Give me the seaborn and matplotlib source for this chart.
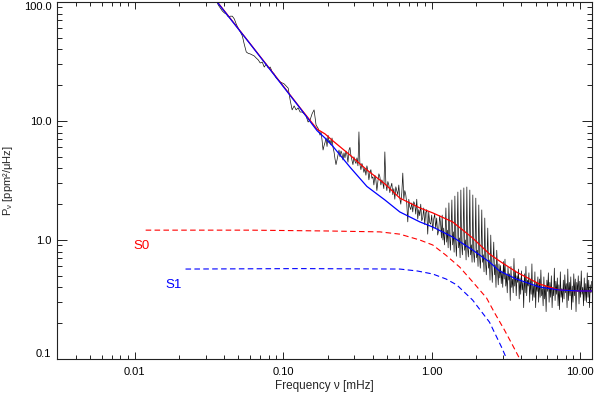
import numpy as np
import matplotlib
matplotlib.use('Agg')
import matplotlib.pyplot as plt
import seaborn as sns
from matplotlib.ticker import FixedLocator, FixedFormatter, LogLocator, NullFormatter

# each piece sits on a log-spaced run of frequency bins (mHz) given by spec_bins
spec_p1 = [102, 94, 89, 84, 81, 79, 75, 76, 76, 72,
           65, 60, 56, 52, 44, 38, 37, 36.6, 35.9, 35.2,
           33.8, 32.6, 30.7, 31.3, 28.4, 30.1, 27.9, 28.4, 25.8, 24.8,
           23.0, 22.1, 21.3, 20.9, 20.5, 19.7, 18.9, 15.0, 12.4, 13.4,
           12.4, 12.9, 11.9, 11.9, 11.5, 11.0, 9.8, 10.2, 11.5, 12.4,
           9.25, 8.7]
spec_p2 = [7.6, 8.1, 6.9, 5.7, 6.2, 6.6, 7.2, 6.1, 7.6, 6.6,
           6.9, 6.3, 7.2, 6.0, 5.5, 4.8, 4.3, 4.7, 5.2, 5.7,
           5.0, 5.6, 5.3, 4.7, 5.4, 4.9, 5.6, 5.2, 4.5, 5.7,
           6.0, 5.1, 4.7, 4.3, 5.0, 4.6, 4.4, 4.9, 4.2, 8.1,
           4.3, 3.9, 4.4, 4.1, 3.7, 4.0, 3.5, 4.2, 3.8, 3.2,
           3.7, 3.9, 3.3, 3.4, 2.9, 3.5, 3.2, 2.6, 3.1, 3.6,
           3.4, 2.9, 3.2, 3.0, 2.7, 5.5, 3.0, 2.6, 3.1, 2.9,
           2.5, 2.8, 3.0, 2.4, 2.7, 2.2, 2.8, 2.6, 2.4, 2.9,
           2.25, 2.0, 2.5, 3.65, 2.2, 2.6, 2.4, 2.0, 1.42, 2.2,
           1.9, 1.8, 2.05, 1.72, 2.1, 2.0, 1.65, 2.2, 1.5, 1.8,
           1.6, 2.0, 1.45, 1.53, 1.86, 1.35, 1.7, 1.8, 1.12, 1.72,
           1.4, 1.36, 1.62, 1.2, 1.5, 1.65, 1.25, 1.53, 1.1, 1.21,
           1.6]
spec_p3 = [1.34, 1.04, 1.62, 1.00, 1.26, 0.91, 1.17, 1.86, 0.96, 1.21,
           0.86, 2.05, 1.08, 0.82, 1.24, 2.17, 0.91, 1.17, 0.79, 2.34,
           1.00, 0.73, 1.10, 2.53, 0.86, 1.04, 0.71, 2.63, 0.94, 0.75,
           1.08, 2.74, 0.82, 1.00, 0.68, 2.79, 0.86, 0.72, 0.96, 2.63,
           0.75, 0.91, 0.65, 2.39, 0.79, 0.65, 0.87, 2.25, 0.71, 0.82,
           0.60, 1.97, 0.73, 0.58, 0.79, 1.79, 0.65, 0.75, 0.54, 1.53,
           0.65, 0.51, 0.71, 1.26, 0.58, 0.68, 0.46, 1.10, 0.60, 0.44,
           0.65, 0.96, 0.51, 0.62, 0.40, 0.82, 0.56, 0.42, 0.63, 0.48]
spec_p4 = [0.61, 0.43, 0.55, 0.40, 0.66, 0.47, 0.69, 0.41, 0.51, 0.36,
           0.59, 0.46, 0.52, 0.31, 0.60, 0.40, 0.47, 0.36, 0.70, 0.41,
           0.55, 0.34, 0.50, 0.44, 0.57, 0.32, 0.48, 0.35, 0.55, 0.38,
           0.44, 0.27, 0.52, 0.36, 0.60, 0.34, 0.46, 0.41, 0.53, 0.30,
           0.46, 0.35, 0.63, 0.31, 0.41, 0.33, 0.54, 0.27, 0.44, 0.37,
           0.49, 0.30, 0.47, 0.33, 0.56, 0.34, 0.39, 0.28, 0.49, 0.32,
           0.41, 0.25, 0.46, 0.37, 0.53, 0.30, 0.44, 0.33, 0.50, 0.27,
           0.40, 0.34, 0.58, 0.31, 0.45, 0.35, 0.48, 0.28, 0.42, 0.26,
           0.54, 0.33, 0.39, 0.30, 0.46, 0.32, 0.51, 0.36, 0.43, 0.27,
           0.57, 0.31, 0.44, 0.34, 0.49, 0.26, 0.41, 0.30, 0.52, 0.34,
           0.47, 0.25, 0.44, 0.37, 0.50, 0.29, 0.45, 0.33, 0.55, 0.35,
           0.40, 0.28, 0.48, 0.31, 0.43, 0.30, 0.53, 0.33, 0.46, 0.27,
           0.42, 0.36, 0.45]
spec_bins = [(0.0355, 0.1717), (0.1771, 1.1316), (1.149, 2.871), (2.905, 11.95)]

# fitted background: red = full model, blue = second fit
red_f = [0.0334, 0.0601, 0.1, 0.130, 0.169, 0.191, 0.2167, 0.2815, 0.366, 0.484,
         0.610, 0.831, 1.016, 1.383, 1.885, 2.449, 2.859, 3.717, 5.30, 7.23,
         9.84, 12.0]
red_p = [113, 44.4, 19.7, 12.9, 8.55, 7.8, 6.79, 5.18, 3.88, 2.96,
         2.25, 1.86, 1.69, 1.42, 1.04, 0.763, 0.666, 0.538, 0.427, 0.38,
         0.373, 0.373]
blue_f = [0.0334, 0.0601, 0.1, 0.130, 0.169, 0.191, 0.2167, 0.2815, 0.366, 0.484,
          0.610, 0.831, 1.016, 1.383, 1.885, 2.449, 2.859, 3.717, 5.30, 7.23,
          9.84, 12.0]
blue_p = [112, 44.2, 19.5, 12.8, 8.3, 7.2, 6.1, 4.1, 2.82, 2.17,
          1.72, 1.42, 1.286, 1.06, 0.824, 0.653, 0.549, 0.47, 0.403, 0.38,
          0.373, 0.373]

# granulation components
s0_f = [0.01186, 0.0601, 0.2067, 0.448, 0.610, 0.831, 1.016, 1.242, 1.541, 1.914,
        2.339, 2.647, 3.09, 3.50, 4.02]
s0_p = [1.21, 1.21, 1.19, 1.17, 1.12, 1.0, 0.908, 0.748, 0.593, 0.436,
        0.326, 0.245, 0.175, 0.131, 0.094]
s1_f = [0.0220, 0.130, 0.610, 0.8, 1.016, 1.25, 1.472, 1.885, 2.449, 2.95, 3.24]
s1_p = [0.57, 0.575, 0.57, 0.549, 0.518, 0.47, 0.42, 0.313, 0.204, 0.126, 0.0965]

xticks = [0.01, 0.1, 1.0, 10.0]
xticklabels = ['0.01', '0.10', '1.00', '10.00']
yticks = [0.1, 1.0, 10.0, 100.0]
yticklabels = ['0.1', '1.0', '10.0', '100.0']

sns.set_style('ticks')
plt.rcParams['font.family'] = ['Liberation Sans', 'DejaVu Sans']
plt.rcParams['mathtext.fontset'] = 'custom'
plt.rcParams['mathtext.rm'] = 'Liberation Sans'
plt.rcParams['mathtext.it'] = 'Liberation Sans'

fig = plt.figure(figsize=(5.97, 3.93), dpi=100)
ax = fig.add_axes([57 / 597, 1 - 359 / 393, 535 / 597, 357 / 393])

freq = np.concatenate([np.geomspace(a, b, len(p)) for (a, b), p in
                       zip(spec_bins, [spec_p1, spec_p2, spec_p3, spec_p4])])
power = np.concatenate([spec_p1, spec_p2, spec_p3, spec_p4])

sns.lineplot(x=freq, y=power, ax=ax, color='#111111', lw=0.5, sort=False, estimator=None)
sns.lineplot(x=red_f, y=red_p, ax=ax, color='#ff0000', lw=0.9, sort=False, estimator=None)
sns.lineplot(x=blue_f, y=blue_p, ax=ax, color='#0000ff', lw=0.9, sort=False, estimator=None)
sns.lineplot(x=s0_f, y=s0_p, ax=ax, color='#ff0000', lw=0.8, sort=False, estimator=None,
             linestyle=(0, (5, 3)))
sns.lineplot(x=s1_f, y=s1_p, ax=ax, color='#0000ff', lw=0.8, sort=False, estimator=None,
             linestyle=(0, (5, 3)))

ax.text(0.01114, 0.89, 'S0', color='#ff0000', fontsize=9.5, ha='center', va='center')
ax.text(0.01828, 0.419, 'S1', color='#0000ff', fontsize=9.5, ha='center', va='center')

ax.set_xscale('log')
ax.set_yscale('log')
ax.set_xlim(0.003, 12)
ax.set_ylim(0.1, 100)

ax.xaxis.set_major_locator(FixedLocator(xticks))
ax.xaxis.set_major_formatter(FixedFormatter(xticklabels))
ax.yaxis.set_major_locator(FixedLocator(yticks))
ax.yaxis.set_major_formatter(FixedFormatter(yticklabels))
for axis in (ax.xaxis, ax.yaxis):
    axis.set_minor_locator(LogLocator(base=10, subs=np.arange(2, 10)))
    axis.set_minor_formatter(NullFormatter())

ax.tick_params(which='both', direction='in', top=True, right=True,
               width=0.7, color='#222222', labelsize=8, labelcolor='black')
ax.tick_params(axis='x', which='major', length=5, pad=6)
ax.tick_params(axis='x', which='minor', length=2.8)
ax.tick_params(axis='y', which='major', length=7.2, pad=4)
ax.tick_params(axis='y', which='minor', length=3.6)
for sp in ax.spines.values():
    sp.set_visible(True)
    sp.set_linewidth(0.8)
    sp.set_color('#222222')

ylabs = ax.get_yticklabels()
ylabs[0].set_va('bottom')
ylabs[-1].set_va('top')

ax.set_xlabel('Frequency ν [mHz]', fontsize=8.5)
ax.set_ylabel(r'P$_{ν}$ [ppm²/μHz]', fontsize=8)
ax.xaxis.set_label_coords(0.5, -0.058)
ax.yaxis.set_label_coords(-0.078, 0.5)

fig.savefig('out.png', dpi=100)
